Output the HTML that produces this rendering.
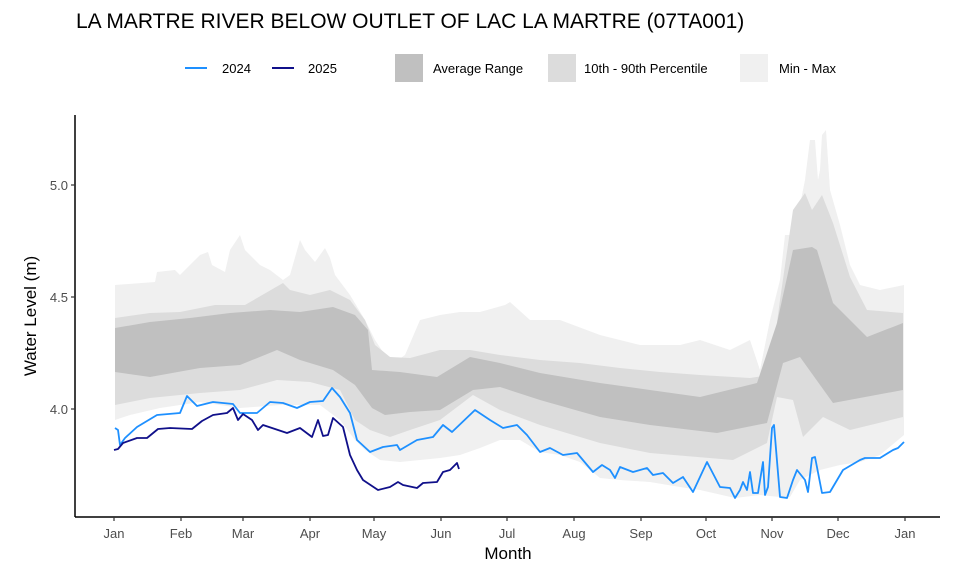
<!DOCTYPE html>
<html><head><meta charset="utf-8"><style>
body{margin:0;background:#fff;}
svg{display:block;font-family:"Liberation Sans",Arial,sans-serif;}
</style></head><body>
<svg width="960" height="587" viewBox="0 0 960 587">
<rect width="960" height="587" fill="#fff"/>
<text x="76" y="28" font-size="21" fill="#000">LA MARTRE RIVER BELOW OUTLET OF LAC LA MARTRE (07TA001)</text>
<!-- legend -->
<line x1="185" y1="68" x2="207" y2="68" stroke="#1e90ff" stroke-width="2"/>
<text x="222" y="73" font-size="13" fill="#000">2024</text>
<line x1="272" y1="68" x2="294" y2="68" stroke="#10108a" stroke-width="2"/>
<text x="308" y="73" font-size="13" fill="#000">2025</text>
<rect x="395" y="54" width="28" height="28" fill="#c0c0c0"/>
<text x="433" y="73" font-size="13" fill="#000">Average Range</text>
<rect x="548" y="54" width="28" height="28" fill="#dcdcdc"/>
<text x="584" y="73" font-size="13" fill="#000">10th - 90th Percentile</text>
<rect x="740" y="54" width="28" height="28" fill="#f0f0f0"/>
<text x="779" y="73" font-size="13" fill="#000">Min - Max</text>
<!-- min-max -->
<polygon fill="#f0f0f0" points="115,285 155,282 157,272 175,270 180,275 195,260 200,255 208,252 212,265 225,272 230,250 240,235 245,250 260,265 270,270 283,280 290,275 300,240 305,250 315,262 325,248 330,258 335,275 350,295 365,320 375,340 385,355 398,360 405,355 420,320 440,315 460,312 480,312 505,305 510,302 530,320 560,320 600,335 640,345 680,345 700,340 730,350 750,340 760,370 770,320 780,280 785,235 790,235 795,260 800,205 805,180 810,140 815,140 818,180 820,170 822,135 826,130 830,190 840,225 850,265 860,285 880,290 904,285 904,435 880,455 860,462 840,465 820,470 800,480 790,497 780,497 760,495 735,498 700,490 680,487 650,482 620,480 600,478 580,462 560,455 540,452 520,440 500,440 480,448 460,455 440,458 420,460 400,462 380,460 365,450 355,440 340,420 320,405 280,405 240,408 200,402 160,408 130,415 115,420"/>
<!-- 10-90 -->
<polygon fill="#dcdcdc" points="115,318 150,313 180,312 215,305 245,305 283,283 290,290 310,295 330,290 350,300 365,320 375,345 390,357 410,358 440,350 470,350 500,355 540,360 580,363 620,368 660,372 700,375 750,378 770,375 780,300 793,210 805,193 812,210 822,195 833,223 850,277 867,310 903,313 903,417 850,430 823,417 803,437 793,400 777,397 767,443 733,460 650,453 600,443 540,425 500,410 473,395 440,420 410,430 390,437 370,430 355,420 340,390 310,382 277,380 240,390 200,393 150,398 115,405"/>
<!-- average -->
<polygon fill="#c0c0c0" points="115,328 150,322 190,318 230,313 270,310 300,312 333,307 355,315 368,330 372,370 400,372 437,377 470,357 500,363 540,373 600,383 650,390 700,397 757,383 777,323 793,250 812,247 817,250 833,303 867,337 903,323 903,390 833,403 800,357 783,363 767,423 717,433 650,425 600,417 540,400 500,387 473,390 440,410 410,412 385,415 372,408 355,385 333,370 300,360 277,350 240,365 200,368 150,377 115,372"/>
<!-- 2024 -->
<polyline fill="none" stroke="#1e90ff" stroke-width="1.8" stroke-linejoin="round" points="115,428 118,430 120,445 125,438 137,427 157,415 180,413 187,396 197,406 213,402 233,404 240,413 257,413 270,402 283,403 297,408 310,402 323,401 332,388 340,397 350,413 357,440 370,452 383,447 397,445 400,450 417,440 433,437 443,425 452,432 475,410 490,420 503,428 517,425 527,435 540,452 550,448 563,455 577,453 593,472 602,465 610,470 615,478 620,467 633,472 647,468 653,475 663,473 673,483 683,477 693,492 707,462 720,487 730,488 735,498 740,490 743,482 747,490 750,472 753,493 758,493 763,462 765,495 768,487 772,428 774,425 780,497 787,498 793,480 797,470 805,480 808,492 812,458 815,457 822,493 830,492 843,470 860,460 865,458 880,458 893,450 898,448 904,442"/>
<!-- 2025 -->
<polyline fill="none" stroke="#10108a" stroke-width="1.8" stroke-linejoin="round" points="114,450 118,449 123,443 137,438 147,438 158,429 170,428 192,429 202,421 213,415 227,413 233,408 238,420 243,414 252,420 258,430 263,425 287,433 300,428 312,437 318,420 323,436 328,435 333,418 343,427 350,455 357,470 363,480 378,490 390,487 398,482 403,485 417,488 423,483 437,482 443,472 450,470 457,463 459,469"/>
<!-- axes -->
<line x1="75" y1="115" x2="75" y2="517" stroke="#000" stroke-width="1.5"/>
<line x1="75" y1="517" x2="940" y2="517" stroke="#000" stroke-width="1.5"/>
<g stroke="#333" stroke-width="1.2">
<line x1="71" y1="185" x2="75" y2="185"/><line x1="71" y1="297" x2="75" y2="297"/><line x1="71" y1="409" x2="75" y2="409"/>
<line x1="114" y1="517" x2="114" y2="521"/><line x1="181" y1="517" x2="181" y2="521"/><line x1="243" y1="517" x2="243" y2="521"/><line x1="310" y1="517" x2="310" y2="521"/><line x1="374" y1="517" x2="374" y2="521"/><line x1="441" y1="517" x2="441" y2="521"/><line x1="507" y1="517" x2="507" y2="521"/><line x1="574" y1="517" x2="574" y2="521"/><line x1="641" y1="517" x2="641" y2="521"/><line x1="706" y1="517" x2="706" y2="521"/><line x1="772" y1="517" x2="772" y2="521"/><line x1="838" y1="517" x2="838" y2="521"/><line x1="905" y1="517" x2="905" y2="521"/>
</g>
<g font-size="13" fill="#4d4d4d" text-anchor="end">
<text x="68" y="190">5.0</text><text x="68" y="302">4.5</text><text x="68" y="414">4.0</text>
</g>
<g font-size="13" fill="#4d4d4d" text-anchor="middle">
<text x="114" y="538">Jan</text><text x="181" y="538">Feb</text><text x="243" y="538">Mar</text><text x="310" y="538">Apr</text><text x="374" y="538">May</text><text x="441" y="538">Jun</text><text x="507" y="538">Jul</text><text x="574" y="538">Aug</text><text x="641" y="538">Sep</text><text x="706" y="538">Oct</text><text x="772" y="538">Nov</text><text x="838" y="538">Dec</text><text x="905" y="538">Jan</text>
</g>
<text x="508" y="559" font-size="17" text-anchor="middle" fill="#000">Month</text>
<text transform="translate(36,316) rotate(-90)" font-size="17" text-anchor="middle" fill="#000">Water Level (m)</text>
</svg>
</body></html>
